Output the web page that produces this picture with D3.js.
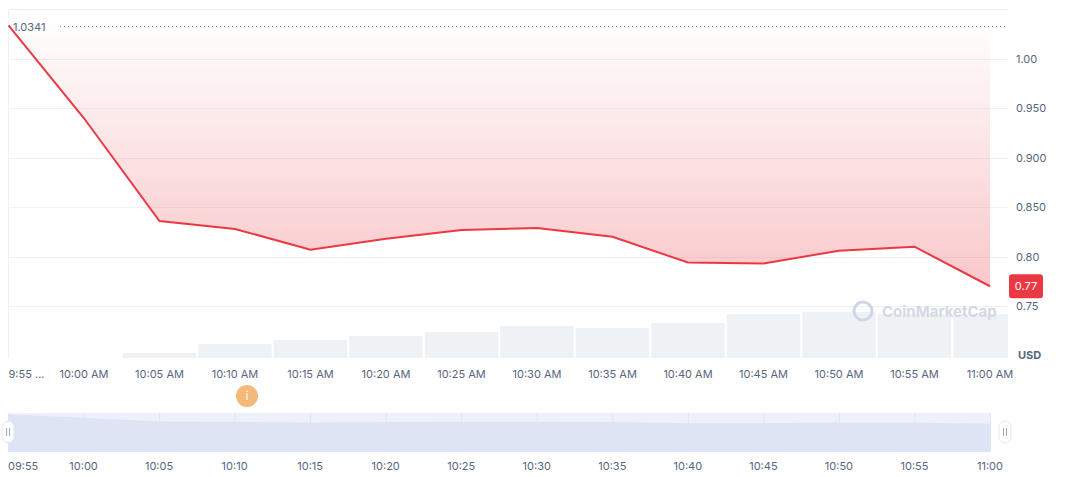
<!DOCTYPE html>
<html><head><meta charset="utf-8">
<script src="https://cdn.jsdelivr.net/npm/d3@7"></script>
<style>body{margin:0;background:#fff;font-family:Inter,"Noto Sans",sans-serif}</style>
</head><body><svg id="c" width="1072" height="477"></svg>
<script>
var times = ["9:55","10:00","10:05","10:10","10:15","10:20","10:25","10:30","10:35","10:40","10:45","10:50","10:55","11:00"];
var prices = [1.0341,0.940,0.836,0.828,0.807,0.818,0.827,0.829,0.820,0.794,0.793,0.806,0.810,0.770];
var volumes = [0,0,5,14,18,22,26,32,30,35,44,46,44,44];
var yTicks = [0.75,0.80,0.85,0.90,0.95,1.00];
var yLabels = ["0.75","0.80","0.850","0.900","0.950","1.00"];

var svg = d3.select("#c");
var x = d3.scalePoint().domain(times).range([8.5,990]);
var y = d3.scaleLinear().domain([0.75,1.0]).range([306,59]);
var yv = d3.scaleLinear().domain([0,46]).range([358,312]);
var step = x.step();

var defs = svg.append("defs");
var g = defs.append("linearGradient").attr("id","fillg").attr("gradientUnits","userSpaceOnUse")
  .attr("x1",0).attr("x2",0).attr("y1",y(prices[0])).attr("y2",y(prices[13]));
g.append("stop").attr("offset","0%").attr("stop-color","#ea3943").attr("stop-opacity",0.01);
g.append("stop").attr("offset","100%").attr("stop-color","#ea3943").attr("stop-opacity",0.28);
defs.append("clipPath").attr("id","pc").append("rect").attr("x",8).attr("y",0).attr("width",1000).attr("height",360);

// top border + grid
svg.append("line").attr("x1",8).attr("x2",1008).attr("y1",9.5).attr("y2",9.5).attr("stroke","#eff2f5");
svg.selectAll(".gl").data(yTicks).enter().append("line")
  .attr("x1",8).attr("x2",1008).attr("y1",function(d){return Math.round(y(d))+0.5;}).attr("y2",function(d){return Math.round(y(d))+0.5;})
  .attr("stroke","#eff2f5");
svg.append("line").attr("x1",8.5).attr("x2",8.5).attr("y1",9).attr("y2",358).attr("stroke","#eff2f5");

// volume bars
svg.append("g").attr("clip-path","url(#pc)").selectAll("rect").data(volumes).enter().append("rect")
  .attr("x",function(d,i){return x(times[i])-step/2+1;})
  .attr("width",step-2)
  .attr("y",function(d){return yv(d);})
  .attr("height",function(d){return 358-yv(d);})
  .attr("fill","#eff2f5");

// area between line and opening price
var pts = prices.map(function(p,i){return [x(times[i]),y(p)];});
svg.append("path").datum(pts)
  .attr("d",d3.area().x(function(d){return d[0];}).y0(y(prices[0])).y1(function(d){return d[1];}))
  .attr("fill","url(#fillg)");
svg.append("path").datum(pts)
  .attr("d",d3.line())
  .attr("fill","none").attr("stroke","#ea3943").attr("stroke-width",2);

// dotted open line
svg.append("line").attr("x1",60).attr("x2",1008).attr("y1",26.5).attr("y2",26.5)
  .attr("stroke","#8a919e").attr("stroke-dasharray","1,3");
svg.append("text").attr("x",13).attr("y",31).attr("font-size",11).attr("fill","#58667e").text(d3.format(".4f")(prices[0]));

// watermark
svg.append("circle").attr("cx",863).attr("cy",311).attr("r",9).attr("fill","none").attr("stroke","#cfd6e4").attr("stroke-width",3);
svg.append("text").attr("x",882).attr("y",317).attr("font-size",15).attr("font-weight",700).attr("fill","#d3d9e3").text("CoinMarketCap");

// y axis labels
svg.selectAll(".yl").data(yTicks).enter().append("text")
  .attr("x",1016).attr("y",function(d){return y(d)+4;})
  .attr("font-size",11).attr("fill","#58667e")
  .text(function(d,i){return yLabels[i];});
svg.append("rect").attr("x",1009).attr("y",y(prices[13])-12).attr("width",34).attr("height",24).attr("rx",3).attr("fill","#ea3943");
svg.append("text").attr("x",1026).attr("y",y(prices[13])+4).attr("text-anchor","middle").attr("font-size",11).attr("fill","#fff").text(prices[13].toFixed(2));
svg.append("text").attr("x",1018).attr("y",359).attr("font-size",11).attr("font-weight",700).attr("fill","#58667e").text("USD");

// x labels
svg.selectAll(".xl").data(times).enter().append("text")
  .attr("x",function(d){return x(d);}).attr("y",378)
  .attr("text-anchor",function(d,i){return i===0?"start":"middle";})
  .attr("font-size",11).attr("fill","#58667e")
  .text(function(d,i){return i===0?"9:55 ...":d+" AM";});

// event marker
svg.append("circle").attr("cx",247).attr("cy",396).attr("r",11).attr("fill","#f5b97a");
svg.append("text").attr("x",247).attr("y",400).attr("text-anchor","middle").attr("font-size",11).attr("fill","#fff").text("i");

// navigator
var xn = d3.scalePoint().domain(times).range([8,990]);
var yn = d3.scaleLinear().domain([0,1.04]).range([452,414]);
svg.append("rect").attr("x",8).attr("y",413).attr("width",982).attr("height",39).attr("fill","#eef1fb");
svg.selectAll(".ng").data(times).enter().append("line")
  .attr("x1",function(d){return xn(d)+0.5;}).attr("x2",function(d){return xn(d)+0.5;})
  .attr("y1",413).attr("y2",452).attr("stroke","#e1e6f4");
svg.append("path").datum(prices)
  .attr("d",d3.area().x(function(d,i){return xn(times[i]);}).y0(452).y1(function(d){return yn(d);}))
  .attr("fill","#dfe4f5");
[8,1005].forEach(function(hx){
  svg.append("rect").attr("x",hx-6).attr("y",421).attr("width",12).attr("height",22).attr("rx",6)
    .attr("fill","#fff").attr("stroke","#e6e9f0");
  svg.append("line").attr("x1",hx-1.5).attr("x2",hx-1.5).attr("y1",428).attr("y2",436).attr("stroke","#a0a8b8");
  svg.append("line").attr("x1",hx+1.5).attr("x2",hx+1.5).attr("y1",428).attr("y2",436).attr("stroke","#a0a8b8");
});
svg.selectAll(".nl").data(times).enter().append("text")
  .attr("x",function(d){return xn(d);}).attr("y",470)
  .attr("text-anchor",function(d,i){return i===0?"start":"middle";})
  .attr("font-size",11).attr("fill","#58667e")
  .text(function(d){return d.length===4?"0"+d:d;});
</script></body></html>
